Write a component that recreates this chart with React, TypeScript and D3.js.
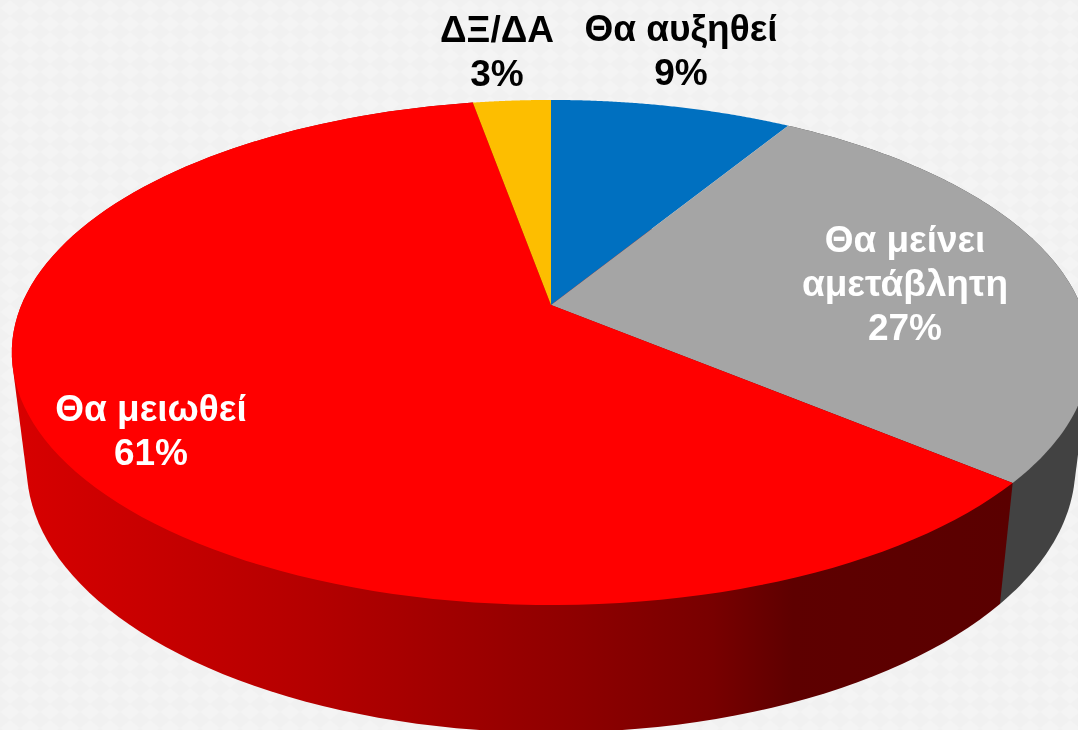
import React, { useEffect, useRef } from 'react';
import * as d3 from 'd3';

const categories = ['Θα αυξηθεί', 'Θα μείνει αμετάβλητη', 'Θα μειωθεί', 'ΔΞ/ΔΑ'];
// the labels round these to whole percents
const values = [8.7, 27.4, 61.1, 2.8];
const topColors = ['#0070c0', '#a5a5a5', '#ff0000', '#fdbe00'];
const sideColors = ['#00406e', '#424242', 'url(#redSide)', '#8f6c00'];

// label lines split by hand, same order as categories
const labelLines = [['Θα αυξηθεί'], ['Θα μείνει', 'αμετάβλητη'], ['Θα μειωθεί'], ['ΔΞ/ΔΑ']];
const labelColors = ['#000', '#fff', '#fff', '#000'];
const labelAnchors = [[681, 41], [905, 252], [151, 421], [497, 42]];

const width = 1078;
const height = 730;
const perspective = 0.188;

// circle angle -> screen point, the pie is seen in perspective so the
// centre does not sit in the middle of the ellipse
function project(plane: { cx: number; cy: number; a: number; b: number }, angle: number): [number, number] {
  const u = Math.sin(angle);
  const v = -Math.cos(angle);
  const w = 1 - perspective * v;
  return [plane.cx + (plane.a * u) / w, plane.cy + (plane.b * v) / w];
}

const topPlane = { cx: 551, cy: 305, a: 529.6, b: 243.6 };
const bottomPlane = { cx: 551, cy: 416.5, a: 515, b: 256.6 };

function App() {
  const svgRef = useRef<SVGSVGElement>(null);

  useEffect(() => {
    const svg = d3.select(svgRef.current).attr('width', width).attr('height', height);
    svg.selectAll('*').remove();

    const defs = svg.append('defs');
    const grad = defs.append('linearGradient')
      .attr('id', 'redSide')
      .attr('gradientUnits', 'userSpaceOnUse')
      .attr('x1', 12).attr('x2', 1013).attr('y1', 0).attr('y2', 0);
    [[0, '#d80000'], [0.3, '#b40000'], [0.55, '#900000'], [0.7, '#780000'], [0.78, '#5e0000'], [1, '#5a0000']].forEach(([o, c]) => {
      grad.append('stop').attr('offset', o as number).attr('stop-color', c as string);
    });

    const bg = defs.append('pattern')
      .attr('id', 'paper')
      .attr('patternUnits', 'userSpaceOnUse')
      .attr('width', 20).attr('height', 16);
    bg.append('rect').attr('width', 20).attr('height', 16).attr('fill', '#f1f1f1');
    bg.append('path').attr('d', 'M10 0L20 8L10 16L0 8Z').attr('fill', '#f4f4f4');

    svg.append('rect').attr('width', width).attr('height', height).attr('fill', 'url(#paper)');

    const pie = d3.pie<number>().sort(null);
    const arcs = pie(values);

    const arcPoints = (plane: typeof topPlane, a0: number, a1: number) =>
      d3.range(0, 1.0001, 1 / 120).map(t => project(plane, a0 + (a1 - a0) * t));

    // side walls, only the front facing slices show
    const sides = svg.append('g');
    arcs.forEach((d, i) => {
      if (i !== 1 && i !== 2) return;
      const pts = [
        ...arcPoints(topPlane, d.startAngle, d.endAngle),
        ...arcPoints(bottomPlane, d.startAngle, d.endAngle),
      ];
      sides.append('path')
        .attr('d', 'M' + d3.polygonHull(pts)!.join('L') + 'Z')
        .attr('fill', sideColors[i]);
    });

    // top faces
    const faces = svg.append('g');
    arcs.forEach((d, i) => {
      const pts: [number, number][] = [[topPlane.cx, topPlane.cy], ...arcPoints(topPlane, d.startAngle, d.endAngle)];
      faces.append('path')
        .attr('d', d3.line()(pts) + 'Z')
        .attr('fill', topColors[i]);
    });

    // labels
    const labels = svg.append('g')
      .attr('font-family', '"Liberation Sans", Arial, sans-serif')
      .attr('font-weight', 'bold')
      .attr('font-size', 37)
      .attr('text-anchor', 'middle');
    categories.forEach((_, i) => {
      const lines = [...labelLines[i], `${d3.format('.0f')(values[i])}%`];
      const text = labels.append('text')
        .attr('x', labelAnchors[i][0])
        .attr('y', labelAnchors[i][1])
        .attr('fill', labelColors[i]);
      lines.forEach((line, j) => {
        text.append('tspan')
          .attr('x', labelAnchors[i][0])
          .attr('dy', j === 0 ? 0 : 44)
          .text(line);
      });
    });
  }, []);

  return <svg ref={svgRef} style={{ position: 'fixed', left: 0, top: 0, display: 'block' }}></svg>;
}

export default App;
